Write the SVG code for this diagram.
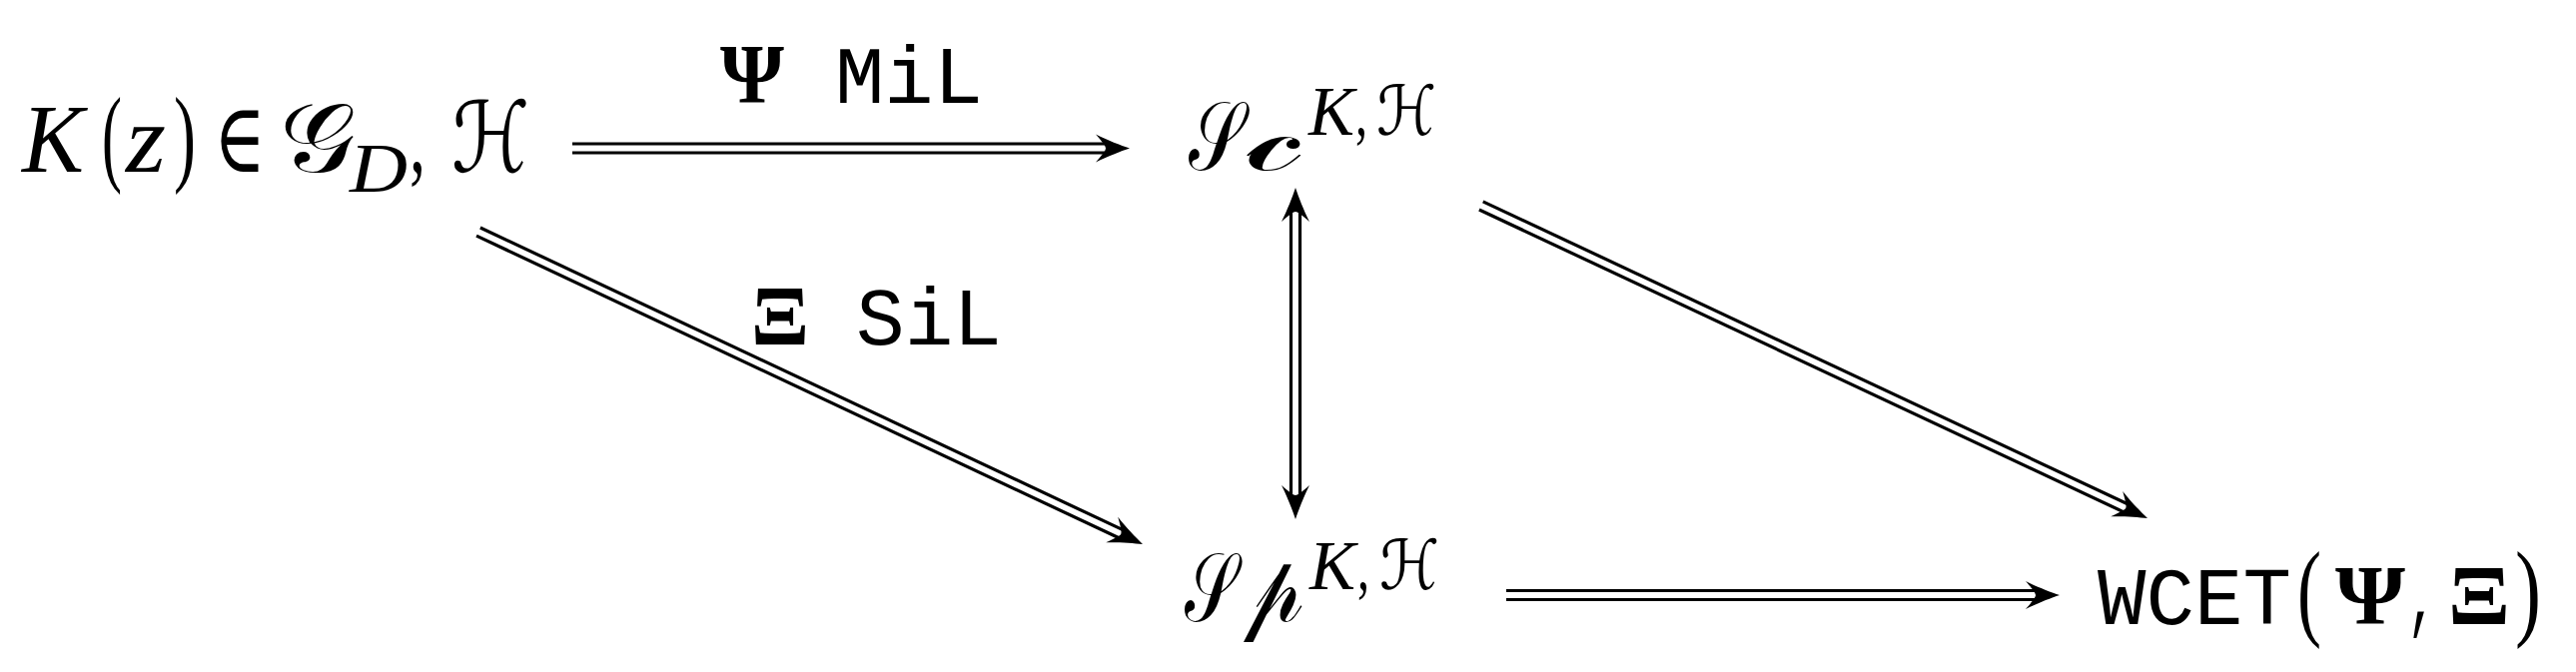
<svg xmlns="http://www.w3.org/2000/svg" xmlns:xlink="http://www.w3.org/1999/xlink" width="2579" height="673" viewBox="0 0 2579 673">
<style>
text{fill:#000}
.mi{font-family:"Liberation Serif","DejaVu Serif",serif;font-style:italic;font-size:98px}
.rm{font-family:"Liberation Serif","DejaVu Serif",serif;font-size:98px}
.sc{font-family:"DejaVu Serif","DejaVu Sans","Noto Sans",serif;font-size:98px}
.hh{font-style:italic}
.sup{font-size:69px}
.tt{font-family:"Liberation Mono","DejaVu Sans Mono",monospace;font-size:82px}
.gk{font-family:"Liberation Serif","DejaVu Serif",serif;font-size:84px;font-weight:bold}
.par{font-family:"Liberation Serif","DejaVu Serif",serif;font-size:109px}
.dl line{stroke:#000;stroke-width:3.2;fill:none}
</style>
<defs>
<path id="ah" d="M0,0 C-9,-3 -22,-8 -34,-14 C-27,-6 -24,-2 -24,0 C-24,2 -27,6 -34,14 C-22,8 -9,3 0,0 Z" fill="#000"/>
</defs>
<rect width="2579" height="673" fill="#fff"/>

<g id="connectors">
  <g id="e-top" class="dl" transform="translate(1131,148.5)">
    <line x1="-558" y1="-4.5" x2="-20" y2="-4.5"/>
    <line x1="-558" y1="4.5" x2="-20" y2="4.5"/>
    <use href="#ah" xlink:href="#ah"/>
  </g>
  <g id="lbl-mil">
    <text class="gk" x="721" y="103" textLength="64" lengthAdjust="spacingAndGlyphs">Ψ</text>
    <text class="tt" x="836" y="103" textLength="148" lengthAdjust="spacingAndGlyphs">MiL</text>
  </g>
  <g id="e-left-diag" class="dl" transform="translate(1144,545) rotate(25.2)">
    <line x1="-735" y1="-4.5" x2="-20" y2="-4.5"/>
    <line x1="-735" y1="4.5" x2="-20" y2="4.5"/>
    <use href="#ah" xlink:href="#ah"/>
  </g>
  <g id="lbl-sil">
    <text class="gk" x="752" y="345" textLength="58" lengthAdjust="spacingAndGlyphs">Ξ</text>
    <text class="tt" x="857" y="345" textLength="146" lengthAdjust="spacingAndGlyphs">SiL</text>
  </g>
  <g id="e-right-diag" class="dl" transform="translate(2150,519) rotate(25.14)">
    <line x1="-737" y1="-4.5" x2="-20" y2="-4.5"/>
    <line x1="-737" y1="4.5" x2="-20" y2="4.5"/>
    <use href="#ah" xlink:href="#ah"/>
  </g>
  <g id="e-vert" class="dl" transform="translate(1297,188) rotate(90)">
    <line x1="20" y1="-4.5" x2="312" y2="-4.5"/>
    <line x1="20" y1="4.5" x2="312" y2="4.5"/>
    <use href="#ah" xlink:href="#ah" transform="rotate(180)"/>
    <use href="#ah" xlink:href="#ah" transform="translate(332,0)"/>
  </g>
  <g id="e-bottom" class="dl" transform="translate(2062,596)">
    <line x1="-554" y1="-4.5" x2="-20" y2="-4.5"/>
    <line x1="-554" y1="4.5" x2="-20" y2="4.5"/>
    <use href="#ah" xlink:href="#ah"/>
  </g>
</g>

<g id="node-K">
  <text class="mi" x="22" y="172" textLength="62" lengthAdjust="spacingAndGlyphs">K</text>
  <text class="par" x="102" y="172" textLength="20" lengthAdjust="spacingAndGlyphs">(</text>
  <text class="mi" x="126" y="172" textLength="40" lengthAdjust="spacingAndGlyphs">z</text>
  <text class="par" x="174" y="172" textLength="22" lengthAdjust="spacingAndGlyphs">)</text>
  <text class="rm" x="214" y="172" textLength="52" lengthAdjust="spacingAndGlyphs">∈</text>
  <text class="sc" x="280" y="172" textLength="76" lengthAdjust="spacingAndGlyphs">𝒢</text>
  <text class="mi sup" x="350" y="192" textLength="58" lengthAdjust="spacingAndGlyphs">D</text>
  <text class="rm" x="410" y="172" textLength="16" lengthAdjust="spacingAndGlyphs">,</text>
  <text class="sc hh" x="452" y="172" textLength="78" lengthAdjust="spacingAndGlyphs">ℋ</text>
</g>

<g id="node-Sc">
  <text class="sc" x="1190" y="170" textLength="55" lengthAdjust="spacingAndGlyphs">𝒮</text>
  <text class="sc" x="1248" y="170" textLength="57" lengthAdjust="spacingAndGlyphs">𝒸</text>
  <text class="mi sup" x="1310" y="135" textLength="46" lengthAdjust="spacingAndGlyphs">K</text>
  <text class="rm sup" x="1357" y="135" textLength="12" lengthAdjust="spacingAndGlyphs">,</text>
  <text class="sc sup hh" x="1378" y="135" textLength="60" lengthAdjust="spacingAndGlyphs">ℋ</text>
</g>

<g id="node-Sp">
  <text class="sc" x="1186" y="622" textLength="52" lengthAdjust="spacingAndGlyphs">𝒮</text>
  <text class="sc" x="1245" y="622" textLength="60" lengthAdjust="spacingAndGlyphs">𝓅</text>
  <text class="mi sup" x="1311" y="590" textLength="46" lengthAdjust="spacingAndGlyphs">K</text>
  <text class="rm sup" x="1359" y="590" textLength="12" lengthAdjust="spacingAndGlyphs">,</text>
  <text class="sc sup hh" x="1381" y="590" textLength="60" lengthAdjust="spacingAndGlyphs">ℋ</text>
</g>

<g id="node-WCET">
  <text class="tt" x="2100" y="625" textLength="194" lengthAdjust="spacingAndGlyphs">WCET</text>
  <text class="par" x="2300" y="627" textLength="24" lengthAdjust="spacingAndGlyphs">(</text>
  <text class="gk" x="2338" y="625" textLength="70" lengthAdjust="spacingAndGlyphs">Ψ</text>
  <text class="tt" x="2410" y="625" textLength="30" lengthAdjust="spacingAndGlyphs">,</text>
  <text class="gk" x="2451" y="625" textLength="62" lengthAdjust="spacingAndGlyphs">Ξ</text>
  <text class="par" x="2518" y="627" textLength="26" lengthAdjust="spacingAndGlyphs">)</text>
</g>
</svg>
